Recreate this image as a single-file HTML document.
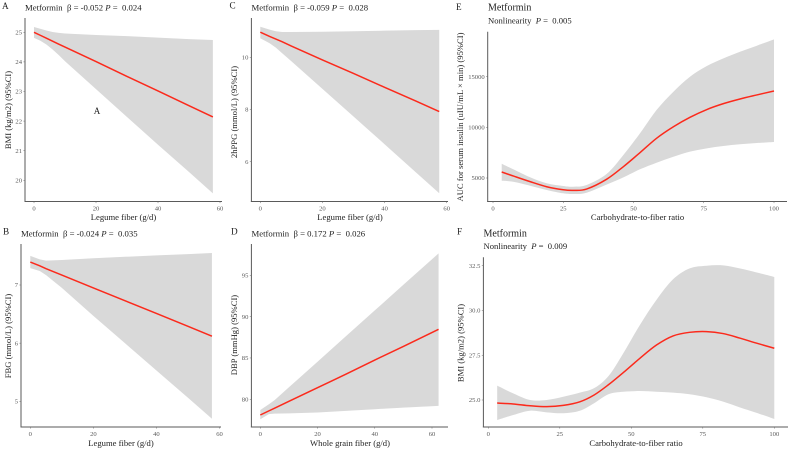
<!DOCTYPE html>
<html lang="en">
<head>
<meta charset="utf-8">
<title>Metformin fiber panels</title>
<style>
html,body{margin:0;padding:0;background:#fff;}
body{width:790px;height:450px;overflow:hidden;}
svg{display:block;font-family:"Liberation Serif",serif;}
.tick{font-size:6.6px;fill:#5a5a5a;}
.axt{font-size:8.6px;fill:#222;text-anchor:middle;}
.ttl{font-size:8.7px;fill:#222;}
.big{font-size:10px;fill:#222;}
.sub{font-size:8.6px;fill:#222;}
.let{font-size:9.2px;fill:#222;}
</style>
</head>
<body>
<svg id="chart" width="790" height="450" viewBox="0 0 790 450" xmlns="http://www.w3.org/2000/svg">
  <rect width="790" height="450" fill="#fff"/>
  <g id="marks"></g>

  <text class="let" x="2" y="9">A</text>
  <text class="ttl" x="25" y="10.5" xml:space="preserve">Metformin  β = -0.052 <tspan font-style="italic">P</tspan> =  0.024</text>
  <text class="axt" x="123.5" y="220">Legume fiber (g/d)</text>
  <text class="axt" transform="translate(10.8,110) rotate(-90)">BMI (kg/m2) (95%CI)</text>
  <text x="97" y="114" font-size="9" fill="#222" text-anchor="middle">A</text>

  <text class="let" x="3" y="234.7">B</text>
  <text class="ttl" x="21" y="236.5" xml:space="preserve">Metformin  β = -0.024 <tspan font-style="italic">P</tspan> =  0.035</text>
  <text class="axt" x="121" y="446">Legume fiber (g/d)</text>
  <text class="axt" transform="translate(10.8,336) rotate(-90)">FBG (mmol/L) (95%CI)</text>

  <text class="let" x="229.5" y="8.5">C</text>
  <text class="ttl" x="251.5" y="10.5" xml:space="preserve">Metformin  β = -0.059 <tspan font-style="italic">P</tspan> =  0.028</text>
  <text class="axt" x="350" y="220">Legume fiber (g/d)</text>
  <text class="axt" transform="translate(237,112) rotate(-90)">2hPPG (mmol/L) (95%CI)</text>

  <text class="let" x="231" y="234.7">D</text>
  <text class="ttl" x="251.5" y="236.5" xml:space="preserve">Metformin  β = 0.172 <tspan font-style="italic">P</tspan> =  0.026</text>
  <text class="axt" x="350" y="446">Whole grain fiber (g/d)</text>
  <text class="axt" transform="translate(237,335) rotate(-90)">DBP (mmHg) (95%CI)</text>

  <text class="let" x="456" y="10">E</text>
  <text class="big" x="488" y="10.5">Metformin</text>
  <text class="sub" x="488" y="23.3" xml:space="preserve">Nonlinearity  <tspan font-style="italic">P</tspan> =  0.005</text>
  <text class="axt" x="637.5" y="220">Carbohydrate-to-fiber ratio</text>
  <text class="axt" transform="translate(463,117) rotate(-90)">AUC for serum insulin (uIU/mL × min) (95%CI)</text>

  <text class="let" x="457" y="234.5">F</text>
  <text class="big" x="483.5" y="236.5">Metformin</text>
  <text class="sub" x="483.5" y="249" xml:space="preserve">Nonlinearity  <tspan font-style="italic">P</tspan> =  0.009</text>
  <text class="axt" x="636" y="446">Carbohydrate-to-fiber ratio</text>
  <text class="axt" transform="translate(463.5,343) rotate(-90)">BMI (kg/m2) (95%CI)</text>
</svg>

<script>
/* Panel A */
const aXTicks = [0, 20, 40, 60];
const aYTicks = [20, 21, 22, 23, 24, 25];
const aX = [0, 2, 4, 6, 8, 10, 20, 30, 40, 50, 57.7];
const aFit = [25, 24.9, 24.8, 24.7, 24.6, 24.5, 24.01, 23.51, 23.02, 22.52, 22.14];
const aUpper = [25.18, 25.12, 25.06, 25.01, 24.98, 24.96, 24.91, 24.87, 24.82, 24.77, 24.74];
const aLower = [24.81, 24.72, 24.59, 24.42, 24.23, 24.02, 23.08, 22.14, 21.2, 20.28, 19.56];

/* Panel B */
const bXTicks = [0, 20, 40, 60];
const bYTicks = [5, 6, 7];
const bX = [0, 3, 5, 10, 20, 30, 40, 50, 57.6];
const bFit = [7.395, 7.33, 7.28, 7.17, 6.95, 6.73, 6.51, 6.29, 6.12];
const bUpper = [7.5, 7.44, 7.42, 7.43, 7.46, 7.485, 7.51, 7.53, 7.55];
const bLower = [7.29, 7.24, 7.17, 6.95, 6.47, 6.0, 5.53, 5.06, 4.7];

/* Panel C */
const cXTicks = [0, 20, 40, 60];
const cYTicks = [6, 8, 10];
const cX = [0, 3, 5, 7, 10, 20, 30, 40, 50, 57.6];
const cFit = [10.96, 10.8, 10.7, 10.6, 10.43, 9.9, 9.38, 8.85, 8.33, 7.92];
const cUpper = [11.17, 11.06, 11.0, 10.97, 10.97, 10.98, 11.0, 11.02, 11.04, 11.05];
const cLower = [10.73, 10.54, 10.37, 10.16, 9.85, 8.79, 7.73, 6.67, 5.6, 4.79];

/* Panel D */
const dXTicks = [0, 20, 40, 60];
const dYTicks = [80, 85, 90, 95];
const dX = [0, 3, 5, 10, 20, 30, 40, 50, 62.3];
const dFit = [78.1, 78.6, 78.93, 79.76, 81.4, 83.05, 84.75, 86.4, 88.46];
const dUpper = [78.7, 79.4, 79.9, 81.45, 84.55, 87.65, 90.75, 93.85, 97.65];
const dLower = [77.58, 78.2, 78.27, 78.3, 78.4, 78.6, 78.8, 79.0, 79.2];

/* Panel E */
const eXTicks = [0, 25, 50, 75, 100];
const eYTicks = [5000, 10000, 15000];
const eX = [3.1, 7.2, 13.2, 19.1, 25, 28.6, 33.3, 40.4, 46.4, 52.3, 58.2, 64.2, 70.1, 76.1, 82, 87.9, 93.9, 100];
const eFit = [5590, 5200, 4640, 4140, 3840, 3780, 3910, 4870, 6120, 7500, 8920, 10060, 10990, 11760, 12340, 12800, 13200, 13590];
const eUpper = [6410, 5860, 5070, 4480, 4210, 4140, 4310, 5390, 7270, 9410, 11710, 13520, 15000, 16050, 16810, 17460, 18060, 18690];
const eLower = [4730, 4630, 4240, 3820, 3490, 3420, 3550, 4350, 5060, 5860, 6510, 7100, 7600, 7930, 8160, 8330, 8450, 8550];

/* Panel F */
const fXTicks = [0, 25, 50, 75, 100];
const fYTicks = [25, 27.5, 30, 32.5];
const fYLabels = ['25.0', '27.5', '30.0', '32.5'];
const fX = [3.1, 8.7, 14.6, 20.4, 26.2, 32, 37, 42, 47.2, 53, 58.8, 64.6, 70.4, 76.3, 82.1, 87.9, 93.7, 100];
const fFit = [24.83, 24.78, 24.68, 24.63, 24.7, 24.9, 25.28, 25.85, 26.53, 27.33, 28.07, 28.58, 28.78, 28.82, 28.71, 28.46, 28.18, 27.89];
const fUpper = [25.8, 25.37, 25, 25, 25.18, 25.41, 25.66, 26.33, 27.61, 29.19, 30.59, 31.74, 32.35, 32.5, 32.52, 32.35, 32.13, 31.87];
const fLower = [23.88, 24.16, 24.4, 24.31, 24.26, 24.4, 24.82, 25.32, 25.46, 25.5, 25.46, 25.41, 25.32, 25.15, 24.91, 24.59, 24.29, 23.94];

const NS = 'http://www.w3.org/2000/svg';
const layer = document.getElementById('marks');

function make(tag, attrs, parent) {
  const el = document.createElementNS(NS, tag);
  for (const k in attrs) el.setAttribute(k, attrs[k]);
  parent.appendChild(el);
  return el;
}

/* Build a linear axis function from two calibration values and their pixel positions */
function linear(v0, p0, v1, p1) {
  return function (v) { return p0 + (v - v0) * (p1 - p0) / (v1 - v0); };
}

function smoothPath(pts, smooth, move) {
  let d = (move ? 'M' : 'L') + pts[0][0].toFixed(2) + ' ' + pts[0][1].toFixed(2);
  for (let i = 0; i < pts.length - 1; i++) {
    const p0 = pts[Math.max(0, i - 1)], p1 = pts[i], p2 = pts[i + 1], p3 = pts[Math.min(pts.length - 1, i + 2)];
    if (smooth) {
      const c1x = p1[0] + (p2[0] - p0[0]) / 6, c1y = p1[1] + (p2[1] - p0[1]) / 6;
      const c2x = p2[0] - (p3[0] - p1[0]) / 6, c2y = p2[1] - (p3[1] - p1[1]) / 6;
      d += 'C' + c1x.toFixed(2) + ' ' + c1y.toFixed(2) + ' ' + c2x.toFixed(2) + ' ' + c2y.toFixed(2) + ' ' + p2[0].toFixed(2) + ' ' + p2[1].toFixed(2);
    } else {
      d += 'L' + p2[0].toFixed(2) + ' ' + p2[1].toFixed(2);
    }
  }
  return d;
}

function drawPanel(id, frame, sx, sy, xTicks, yTicks, yLabels, xs, fit, upper, lower, smooth) {
  const g = make('g', {}, layer);
  
  

  const up = xs.map(function (x, i) { return [sx(x), sy(upper[i])]; });
  const lo = xs.map(function (x, i) { return [sx(x), sy(lower[i])]; }).reverse();
  const line = xs.map(function (x, i) { return [sx(x), sy(fit[i])]; });

  const ribbon = make('path', { d: smoothPath(up, smooth, true) + smoothPath(lo, smooth, false) + 'Z', fill: '#d9d9d9' }, g);
  
  

  const curve = make('path', { d: smoothPath(line, smooth, true), fill: 'none', stroke: '#fb2a1c', 'stroke-width': 1.5, 'stroke-linecap': 'butt' }, g);
  
  

  const yAxis = make('line', { x1: frame.left, x2: frame.left, y1: frame.top, y2: frame.bottom + 0.5, stroke: '#5a5a5a', 'stroke-width': 1 }, g);
  
  

  const xAxis = make('line', { x1: frame.left - 0.5, x2: frame.right, y1: frame.bottom, y2: frame.bottom, stroke: '#5a5a5a', 'stroke-width': 1 }, g);
  
  

  xTicks.forEach(function (t) {
    const mark = make('line', { x1: sx(t), x2: sx(t), y1: frame.bottom, y2: frame.bottom + 1.6, stroke: '#666', 'stroke-width': 0.5 }, g);
    
    
    const label = make('text', { x: sx(t), y: frame.bottom + 8.8, 'text-anchor': 'middle', class: 'tick' }, g);
    
    
    label.textContent = t;
  });

  yTicks.forEach(function (t, i) {
    const mark = make('line', { x1: frame.left - 1.6, x2: frame.left, y1: sy(t), y2: sy(t), stroke: '#666', 'stroke-width': 0.5 }, g);
    
    
    const label = make('text', { x: frame.left - 3, y: sy(t) + 2.2, 'text-anchor': 'end', class: 'tick' }, g);
    
    
    label.textContent = yLabels ? yLabels[i] : t;
  });
}

drawPanel('a', { left: 25, right: 222, top: 18, bottom: 201.5 },
  linear(0, 34, 60, 220), linear(20, 180.3, 25, 32.3),
  aXTicks, aYTicks, null, aX, aFit, aUpper, aLower, false);

drawPanel('b', { left: 21, right: 221, top: 244, bottom: 427 },
  linear(0, 30.3, 60, 219.5), linear(5, 401.3, 7, 285),
  bXTicks, bYTicks, null, bX, bFit, bUpper, bLower, false);

drawPanel('c', { left: 251.4, right: 448, top: 18, bottom: 201.5 },
  linear(0, 260.3, 60, 446.7), linear(6, 161.7, 10, 57.3),
  cXTicks, cYTicks, null, cX, cFit, cUpper, cLower, false);

drawPanel('d', { left: 251.4, right: 448, top: 244, bottom: 427 },
  linear(0, 260.3, 60, 432), linear(80, 399.3, 95, 275.3),
  dXTicks, dYTicks, null, dX, dFit, dUpper, dLower, false);

drawPanel('e', { left: 487.7, right: 787, top: 31.7, bottom: 201.5 },
  linear(0, 493, 100, 774), linear(5000, 178, 15000, 76.7),
  eXTicks, eYTicks, null, eX, eFit, eUpper, eLower, true);

drawPanel('f', { left: 483.4, right: 788, top: 257.3, bottom: 427 },
  linear(0, 488.3, 100, 774.3), linear(25, 400, 32.5, 265.7),
  fXTicks, fYTicks, fYLabels, fX, fFit, fUpper, fLower, true);
</script>
</body>
</html>
